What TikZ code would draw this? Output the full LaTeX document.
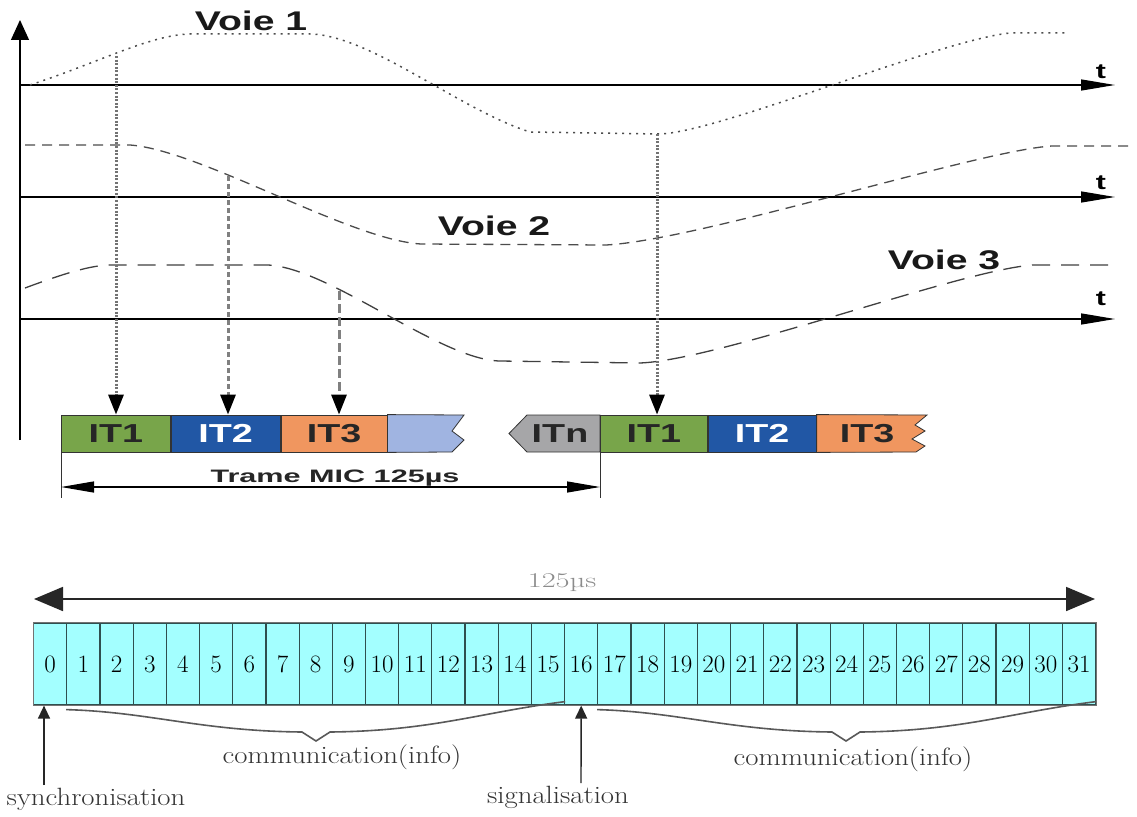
\documentclass[tikz,border=0pt]{standalone}
\usepackage{fontspec}
\setmainfont{Latin Modern Roman}
\usetikzlibrary{arrows.meta}
\newfontfamily\arialb[BoldFont={Liberation Sans Bold}]{Liberation Sans}
\newcommand\sxs[2]{\scalebox{#1}[1]{#2}}
\definecolor{itgreen}{HTML}{78A54A}
\definecolor{itblue}{HTML}{2157A5}
\definecolor{itorange}{HTML}{F0965F}
\definecolor{itlight}{HTML}{A0B4E1}
\definecolor{itgray}{HTML}{A6A6A8}
\definecolor{slotcyan}{HTML}{A3FFFF}
\definecolor{slotline}{HTML}{2F4F4F}
\tikzset{
  axis/.style={line width=1.3pt, black, -{Triangle[length=34pt,width=11pt]}},
  voieA/.style={line width=1.5pt, color=black!70, dash pattern=on 2pt off 5pt},
  voieB/.style={line width=1.3pt, color=black!70, dash pattern=on 10pt off 7pt},
  voieC/.style={line width=1.3pt, color=black!75, dash pattern=on 18pt off 11pt},
  vdot/.style={line width=3pt, color=black!55, dash pattern=on 2pt off 1.6pt, -{Triangle[length=20pt,width=15pt,color=black]}},
  vdashA/.style={line width=3pt, color=black!50, dash pattern=on 5pt off 3pt, -{Triangle[length=20pt,width=15pt,color=black]}},
  vdashB/.style={line width=3pt, color=black!50, dash pattern=on 9pt off 4pt, -{Triangle[length=20pt,width=15pt,color=black]}},
  itbox/.style={draw=black!80, line width=0.8pt, minimum width=109pt, minimum height=37pt, inner sep=0pt, anchor=west, font=\arialb\bfseries\fontsize{26}{28}\selectfont},
  toplabel/.style={font=\arialb\bfseries\fontsize{27}{30}\selectfont, text=black!90},
  tlabel/.style={font=\arialb\bfseries\fontsize{21}{24}\selectfont},
  slot/.style={draw=slotline, line width=1.2pt, fill=slotcyan, minimum width=33.19pt, minimum height=82pt, inner sep=0pt, anchor=west, font=\fontsize{25}{26}\selectfont},
  brace/.style={line width=1.6pt, color=black!65},
  bottomlabel/.style={font=\fontsize{25}{27}\selectfont, text=black!80},
}
\begin{document}
\begin{tikzpicture}[x=1pt,y=-1pt]
\useasboundingbox[fill=white] (0,0) rectangle (1137,816);

% ---------- axes ----------
\coordinate (o0) at (20,440);
\coordinate (oy) at (20,20);
\draw[line width=1.3pt, -{Triangle[length=20pt,width=18pt]}] (o0) -- (oy);
\coordinate (a1s) at (20,85);   \coordinate (a1e) at (1115,85);
\coordinate (a2s) at (20,197);  \coordinate (a2e) at (1115,197);
\coordinate (a3s) at (20,319);  \coordinate (a3e) at (1115,319);
\draw[axis] (a1s) -- (a1e);
\draw[axis] (a2s) -- (a2e);
\draw[axis] (a3s) -- (a3e);
\node[tlabel] (t1) at (1101,72) {\sxs{1.45}{t}};
\node[tlabel] (t2) at (1101,183) {\sxs{1.45}{t}};
\node[tlabel] (t3) at (1101,299) {\sxs{1.45}{t}};

% ---------- signals ----------
\draw[voieA] (30,85) .. controls (100,62) and (150,35) .. (190,34) -- (310,34)
  .. controls (370,35) and (460,110) .. (530,132) -- (660,134)
  .. controls (720,132) and (940,40) .. (1010,33) -- (1067,33);
\draw[voieB] (25,145) -- (130,145) .. controls (200,150) and (350,240) .. (421,244) -- (606,245)
  .. controls (700,240) and (980,150) .. (1052,146) -- (1132,146);
\draw[voieC] (25,288) .. controls (60,275) and (90,265) .. (111,265) -- (268,265)
  .. controls (330,268) and (440,360) .. (500,361) -- (640,363)
  .. controls (720,360) and (960,270) .. (1033,265) -- (1112,265);

\node[toplabel] (voie1) at (251,21) {\sxs{1.45}{Voie 1}};
\node[toplabel] (voie2) at (494,226) {\sxs{1.45}{Voie 2}};
\node[toplabel] (voie3) at (944,260) {\sxs{1.45}{Voie 3}};

% ---------- frame boxes ----------
\node[itbox, fill=itgreen, text=black!85] (b1) at (61,433.5) {\sxs{1.45}{IT1}};
\node[itbox, fill=itblue, text=white] (b2) at (b1.east) {\sxs{1.45}{IT2}};
\node[itbox, fill=itorange, text=black!85, minimum width=106pt] (b3) at (b2.east) {\sxs{1.45}{IT3}};
\fill[itlight, draw=black!80, line width=0.8pt] (b3.north east) -- (464,415) -- (452,431) -- (464,440) -- (452,452) -- (b3.south east) -- cycle;
\fill[itgray, draw=black!80, line width=0.8pt] (600,415) -- (527,415) -- (509,433.5) -- (527,452) -- (600,452) -- cycle;
\node[font=\arialb\bfseries\fontsize{26}{28}\selectfont, text=black!85] (bn) at (560,433.5) {\sxs{1.45}{ITn}};
\node[itbox, fill=itgreen, text=black!85, minimum width=107pt] (c1) at (600,433.5) {\sxs{1.45}{IT1}};
\node[itbox, fill=itblue, text=white, minimum width=108pt] (c2) at (c1.east) {\sxs{1.45}{IT2}};
\fill[itorange, draw=black!80, line width=0.8pt] (c2.north east) -- (927,415) -- (915,425) -- (925,431) -- (912,439) -- (925,446) -- (916,452) -- (c2.south east) -- cycle;
\node[font=\arialb\bfseries\fontsize{26}{28}\selectfont, text=black!85] (c3) at (867,433.5) {\sxs{1.45}{IT3}};

% ---------- sampling lines ----------
\coordinate (p1) at (116,56);
\coordinate (p2) at (228,176);
\coordinate (p3) at (339,291);
\coordinate (p4) at (657,134);
\draw[vdot] (p1) -- (p1 |- b1.north);
\draw[vdashA] (p2) -- (p2 |- b2.north);
\draw[vdashB] (p3) -- (p3 |- b3.north);
\draw[vdot] (p4) -- (p4 |- c1.north);

% ---------- Trame MIC ----------
\coordinate (m1) at (61,498);
\coordinate (m2) at (600,498);
\draw[line width=1pt, black!80] (b1.south west) -- (m1);
\draw[line width=1pt, black!80] (c1.south west) -- (m2);
\coordinate (d1) at (61,487);
\coordinate (d2) at (600,487);
\draw[line width=1.2pt, {Triangle[length=33pt,width=11pt]}-{Triangle[length=33pt,width=11pt]}] (d1) -- (d2);
\node[font=\arialb\bfseries\fontsize{18}{20}\selectfont, text=black!85] (trame) at (335,478) {\sxs{1.7}{Trame MIC 125µs}};

% ---------- bottom : 32 time slots ----------
\coordinate (r1) at (34,599);
\coordinate (r2) at (1095,599);
\draw[line width=1.8pt, black!85, {Triangle[length=29pt,width=24pt]}-{Triangle[length=29pt,width=24pt]}] (r1) -- (r2);
\node[font=\fontsize{21}{22}\selectfont, text=black!45] (us) at (562,583) {\sxs{1.45}{125µs}};

\foreach \i in {0,...,31} {
  \node[slot] (s\i) at ({33+33.1875*\i},664) {\i};
}
\draw[line width=1pt, black!55] (s0.north west) rectangle (s31.south east);

\draw[brace] (s1.south west) ++(0,4) .. controls (150,712) and (200,731) .. (302,732) -- (316,741) -- (330,732)
  .. controls (432,731) and (482,712) .. ([yshift=4pt]s15.south east);
\draw[brace] (s17.south west) ++(0,4) .. controls (680,712) and (730,731) .. (832,732) -- (846,741) -- (860,732)
  .. controls (962,731) and (1012,712) .. ([yshift=4pt]s31.south east);

\node[bottomlabel] (com1) at (342,757) {\sxs{1.15}{communication(info)}};
\node[bottomlabel] (com2) at (853,759) {\sxs{1.15}{communication(info)}};
\node[bottomlabel] (syn) at (96,799) {\sxs{1.15}{synchronisation}};
\node[bottomlabel] (sig) at (558,797) {\sxs{1.15}{signalisation}};

\coordinate (sa) at (44,785);
\draw[line width=1.4pt, black!85, -{Triangle[length=13pt,width=12pt]}] (sa) -- (sa |- s0.south);
\coordinate (sb) at (581,783);
\draw[line width=1.4pt, black!85, -{Triangle[length=13pt,width=12pt]}] (sb) -- (s16.south);
\end{tikzpicture}
\end{document}
